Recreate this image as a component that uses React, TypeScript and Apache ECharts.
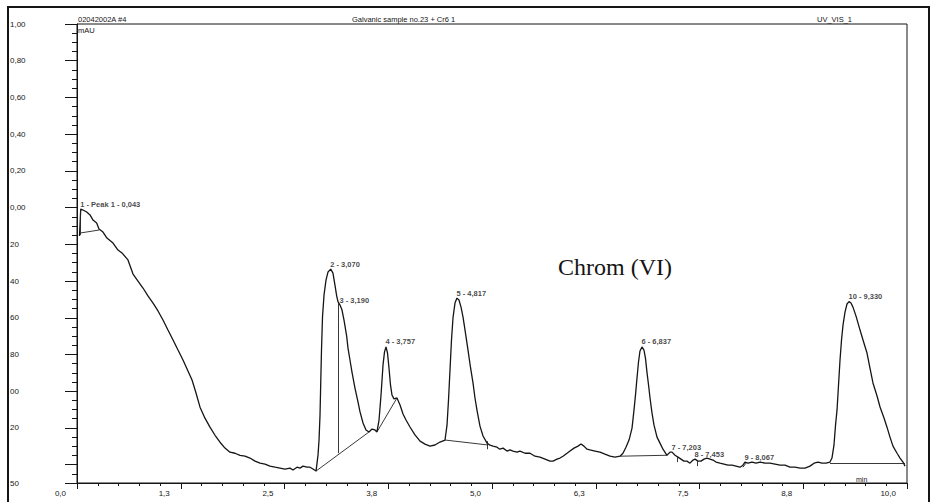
import React, { useEffect, useRef } from "react";
import * as echarts from "echarts";

const traceTime = [
  0.030, 0.045, 0.072, 0.117, 0.157, 0.193, 0.237, 0.265, 0.313, 0.361,
  0.434, 0.494, 0.542, 0.614, 0.675, 0.735, 0.795, 0.855, 0.916, 0.976,
  1.036, 1.096, 1.157, 1.217, 1.277, 1.337, 1.386, 1.434, 1.482, 1.542,
  1.602, 1.663, 1.723, 1.783, 1.843, 1.904, 1.964, 2.024, 2.084, 2.145,
  2.205, 2.265, 2.325, 2.386, 2.446, 2.506, 2.566, 2.602, 2.651, 2.687,
  2.723, 2.771, 2.807, 2.843, 2.880, 2.904, 2.916, 2.928, 2.936, 2.946,
  2.958, 2.976, 3.000, 3.024, 3.057, 3.084, 3.108, 3.129, 3.145, 3.169,
  3.193, 3.217, 3.249, 3.265, 3.289, 3.313, 3.349, 3.386, 3.410, 3.446,
  3.482, 3.518, 3.554, 3.590, 3.614, 3.639, 3.663, 3.687, 3.705, 3.723,
  3.741, 3.759, 3.777, 3.795, 3.819, 3.855, 3.892, 3.928, 3.964, 4.012,
  4.072, 4.133, 4.193, 4.253, 4.313, 4.373, 4.434, 4.458, 4.476, 4.494,
  4.512, 4.530, 4.554, 4.578, 4.602, 4.627, 4.651, 4.675, 4.711, 4.735,
  4.771, 4.795, 4.819, 4.855, 4.892, 4.940, 4.976, 5.012, 5.060, 5.096,
  5.133, 5.181, 5.217, 5.253, 5.301, 5.337, 5.398, 5.458, 5.518, 5.578,
  5.639, 5.699, 5.735, 5.783, 5.819, 5.855, 5.904, 5.940, 5.988, 6.036,
  6.072, 6.108, 6.145, 6.181, 6.241, 6.301, 6.361, 6.422, 6.482, 6.542,
  6.578, 6.614, 6.651, 6.687, 6.711, 6.729, 6.747, 6.765, 6.783, 6.807,
  6.831, 6.849, 6.867, 6.886, 6.904, 6.928, 6.952, 6.988, 7.024, 7.060,
  7.108, 7.145, 7.169, 7.205, 7.241, 7.277, 7.313, 7.349, 7.386, 7.422,
  7.446, 7.482, 7.518, 7.554, 7.590, 7.627, 7.663, 7.699, 7.747, 7.795,
  7.843, 7.892, 7.940, 7.988, 8.024, 8.048, 8.084, 8.133, 8.181, 8.229,
  8.289, 8.349, 8.410, 8.470, 8.530, 8.590, 8.651, 8.711, 8.771, 8.831,
  8.880, 8.928, 8.976, 9.024, 9.072, 9.096, 9.120, 9.139, 9.157, 9.175,
  9.193, 9.211, 9.229, 9.253, 9.277, 9.301, 9.325, 9.349, 9.386, 9.434,
  9.470, 9.518, 9.554, 9.590, 9.639, 9.675, 9.723, 9.759, 9.795, 9.831,
  9.880, 9.916, 9.952, 9.976,
];

const traceSignal = [
  -0.155, -0.008, -0.013, -0.024, -0.040, -0.068, -0.084, -0.117, -0.133, -0.166,
  -0.193, -0.231, -0.247, -0.285, -0.362, -0.400, -0.438, -0.481, -0.520, -0.563,
  -0.612, -0.667, -0.721, -0.776, -0.830, -0.890, -0.939, -1.010, -1.087, -1.147,
  -1.196, -1.240, -1.278, -1.310, -1.332, -1.338, -1.349, -1.354, -1.364, -1.381,
  -1.392, -1.397, -1.408, -1.414, -1.419, -1.424, -1.419, -1.429, -1.414, -1.419,
  -1.408, -1.414, -1.414, -1.424, -1.435, -1.347, -1.266, -1.130, -0.966, -0.771,
  -0.594, -0.477, -0.395, -0.351, -0.335, -0.357, -0.422, -0.482, -0.514, -0.531,
  -0.558, -0.613, -0.700, -0.765, -0.830, -0.896, -0.983, -1.059, -1.113, -1.173,
  -1.211, -1.222, -1.206, -1.211, -1.222, -1.157, -1.021, -0.857, -0.786, -0.759,
  -0.792, -0.874, -0.966, -1.021, -1.042, -1.037, -1.075, -1.124, -1.157, -1.195,
  -1.238, -1.272, -1.288, -1.299, -1.293, -1.277, -1.266, -1.185, -1.048, -0.885,
  -0.721, -0.601, -0.520, -0.493, -0.503, -0.542, -0.597, -0.667, -0.776, -0.852,
  -0.955, -1.037, -1.103, -1.190, -1.244, -1.283, -1.294, -1.299, -1.305, -1.316,
  -1.310, -1.326, -1.320, -1.326, -1.332, -1.326, -1.338, -1.338, -1.354, -1.359,
  -1.370, -1.381, -1.381, -1.370, -1.364, -1.354, -1.338, -1.326, -1.310, -1.299,
  -1.288, -1.299, -1.316, -1.320, -1.326, -1.332, -1.343, -1.354, -1.359, -1.354,
  -1.338, -1.305, -1.266, -1.201, -1.102, -1.020, -0.928, -0.841, -0.781, -0.759,
  -0.776, -0.820, -0.896, -0.966, -1.037, -1.119, -1.185, -1.250, -1.283, -1.316,
  -1.349, -1.332, -1.332, -1.349, -1.359, -1.370, -1.381, -1.381, -1.392, -1.375,
  -1.370, -1.381, -1.381, -1.370, -1.364, -1.370, -1.375, -1.386, -1.392, -1.397,
  -1.403, -1.403, -1.408, -1.414, -1.403, -1.386, -1.392, -1.386, -1.392, -1.386,
  -1.392, -1.392, -1.397, -1.403, -1.403, -1.414, -1.414, -1.419, -1.419, -1.408,
  -1.392, -1.386, -1.392, -1.392, -1.386, -1.364, -1.294, -1.185, -1.102, -0.966,
  -0.830, -0.721, -0.640, -0.569, -0.525, -0.512, -0.520, -0.542, -0.591, -0.667,
  -0.721, -0.792, -0.874, -0.955, -1.026, -1.086, -1.146, -1.196, -1.250, -1.299,
  -1.338, -1.364, -1.386, -1.408,
];

// Peak annotations (anchor point on the trace and printed label)
const peakTime = [0.045, 3.057, 3.169, 3.723, 4.578, 6.807, 7.169, 7.446, 8.048, 9.301];
const peakSignal = [-0.008, -0.335, -0.531, -0.759, -0.493, -0.759, -1.332, -1.370, -1.386, -0.512];
const peakLabels = [
  "1 - Peak 1 - 0,043",
  "2 - 3,070",
  "3 - 3,190",
  "4 - 3,757",
  "5 - 4,817",
  "6 - 6,837",
  "7 - 7,203",
  "8 - 7,453",
  "9 - 8,067",
  "10 - 9,330",
];

// Integration baselines and drop lines: [t1, v1, t2, v2]
const baselineSegments = [
  [0.045, -0.008, 0.045, -0.149],
  [0.045, -0.138, 0.269, -0.122],
  [2.880, -1.435, 3.518, -1.222],
  [3.151, -0.520, 3.151, -1.338],
  [3.614, -1.222, 3.855, -1.037],
  [4.434, -1.266, 4.952, -1.293],
  [4.940, -1.272, 4.940, -1.316],
  [6.542, -1.354, 7.108, -1.349],
  [7.229, -1.359, 7.229, -1.386],
  [7.470, -1.381, 7.470, -1.408],
  [8.024, -1.414, 8.060, -1.392],
  [9.072, -1.392, 9.976, -1.392],
];

// Axis ticks and labels
const xTickLabels = ["0,0", "1,3", "2,5", "3,8", "5,0", "6,3", "7,5", "8,8", "10,0"];
const yMajorTicks = [1.0, 0.8, 0.6, 0.4, 0.2, 0, -0.2, -0.4, -0.6, -0.8, -1.0, -1.2, -1.4, -1.5];
const yLabelValues = [1.0, 0.8, 0.6, 0.4, 0.2, 0, -0.2, -0.4, -0.6, -0.8, -1.0, -1.2, -1.5];
const yLabelTexts = ["1,00", "0,80", "0,60", "0,40", "0,20", "0,00", "20", "40", "60", "80", "00", "20", "50"];

const INK = "#151515";
const SANS = "'Liberation Sans', Arial, sans-serif";

export default function App() {
  const ref = useRef<HTMLDivElement>(null);

  useEffect(() => {
    const chart = echarts.init(ref.current!, null, { renderer: "svg" });
    const traceData = traceTime.map((t, i) => [t, traceSignal[i]]);
    const peakData = peakTime.map((t, i) => [t, peakSignal[i]]);
    const baselineData = baselineSegments.map((s) => [
      { coord: [s[0], s[1]] },
      { coord: [s[2], s[3]] },
    ]);

    chart.setOption({
      animation: false,
      backgroundColor: "#ffffff",
      textStyle: { fontFamily: SANS, color: INK },
      grid: {
        left: 77,
        right: 24,
        top: 24,
        bottom: 19,
        show: true,
        borderColor: INK,
        borderWidth: 1,
        backgroundColor: "transparent",
      },
      xAxis: {
        type: "value",
        min: 0,
        max: 10,
        interval: 1.25,
        axisLine: { show: true, onZero: false, lineStyle: { color: INK, width: 1 } },
        axisTick: { show: true, length: 6, lineStyle: { color: INK, width: 1 } },
        minorTick: { show: true, splitNumber: 5, length: 3, lineStyle: { color: INK, width: 1 } },
        splitLine: { show: false },
        minorSplitLine: { show: false },
        axisLabel: {
          fontSize: 8,
          color: INK,
          fontFamily: SANS,
          margin: 6,
          align: "right",
          padding: [0, 11, 0, 0],
          formatter: (v: number) => xTickLabels[Math.round(v / 1.25)] ?? "",
        },
      },
      yAxis: [
        {
          type: "value",
          min: -1.5,
          max: 1.0,
          interval: 0.1,
          position: "left",
          axisLine: { show: true, onZero: false, lineStyle: { color: INK, width: 1 } },
          axisTick: { show: true, length: 12, customValues: yMajorTicks, lineStyle: { color: INK, width: 1 } },
          splitLine: { show: false },
          axisLabel: {
            customValues: yLabelValues,
            fontSize: 8,
            color: INK,
            fontFamily: SANS,
            align: "left",
            margin: 67,
            formatter: (v: number) => {
              const i = yLabelValues.findIndex((y) => Math.abs(y - v) < 1e-6);
              return i >= 0 ? yLabelTexts[i] : "";
            },
          },
        },
        {
          type: "value",
          min: -1.5,
          max: 1.0,
          interval: 0.05,
          position: "left",
          offset: 0,
          axisLine: { show: false, onZero: false },
          axisTick: { show: true, length: 5, lineStyle: { color: INK, width: 1 } },
          axisLabel: { show: false },
          splitLine: { show: false },
        },
      ],
      series: [
        {
          type: "line",
          name: "UV_VIS_1",
          data: traceData,
          yAxisIndex: 0,
          showSymbol: false,
          symbol: "none",
          smooth: false,
          lineStyle: { color: INK, width: 1.3 },
          silent: true,
          z: 3,
          markLine: {
            silent: true,
            symbol: ["none", "none"],
            label: { show: false },
            lineStyle: { color: "#222", width: 0.9, type: "solid" },
            data: baselineData,
          },
        },
        {
          type: "scatter",
          name: "peaks",
          data: peakData,
          yAxisIndex: 0,
          symbolSize: 1,
          itemStyle: { color: "rgba(0,0,0,0)" },
          silent: true,
          z: 4,
          label: {
            show: true,
            position: [0, 0],
            offset: [0, -4.5],
            align: "left",
            verticalAlign: "middle",
            fontSize: 7.5,
            fontWeight: "bold",
            fontFamily: SANS,
            color: INK,
            formatter: (p: any) => peakLabels[p.dataIndex],
          },
        },
      ],
      graphic: [
        {
          type: "polyline",
          shape: { points: [[8, 504], [8, 7], [929, 7], [929, 504]] },
          style: { stroke: INK, lineWidth: 2, fill: "none" },
          silent: true,
        },
        {
          type: "text",
          x: 78,
          y: 19,
          style: { text: "02042002A #4", fontSize: 7.5, fontFamily: SANS, fill: INK, align: "left", verticalAlign: "middle" },
        },
        {
          type: "text",
          x: 78,
          y: 30,
          style: { text: "mAU", fontSize: 7.5, fontFamily: SANS, fill: INK, align: "left", verticalAlign: "middle" },
        },
        {
          type: "text",
          x: 352,
          y: 19,
          style: { text: "Galvanic sample no.23 + Cr6 1", fontSize: 7.5, fontFamily: SANS, fill: INK, align: "left", verticalAlign: "middle" },
        },
        {
          type: "text",
          x: 817,
          y: 19,
          style: { text: "UV_VIS_1", fontSize: 7.5, fontFamily: SANS, fill: INK, align: "left", verticalAlign: "middle" },
        },
        {
          type: "text",
          x: 856,
          y: 479,
          style: { text: "min", fontSize: 7, fontFamily: SANS, fill: INK, align: "left", verticalAlign: "middle" },
        },
        {
          type: "text",
          x: 558,
          y: 267,
          style: { text: "Chrom (VI)", fontSize: 24, fontFamily: "'Liberation Serif', 'Times New Roman', serif", fill: INK, align: "left", verticalAlign: "middle" },
        },
      ],
    });

    return () => chart.dispose();
  }, []);

  return (
    <div
      ref={ref}
      style={{ position: "fixed", left: 0, top: 0, width: 931, height: 502, background: "#ffffff" }}
    />
  );
}
